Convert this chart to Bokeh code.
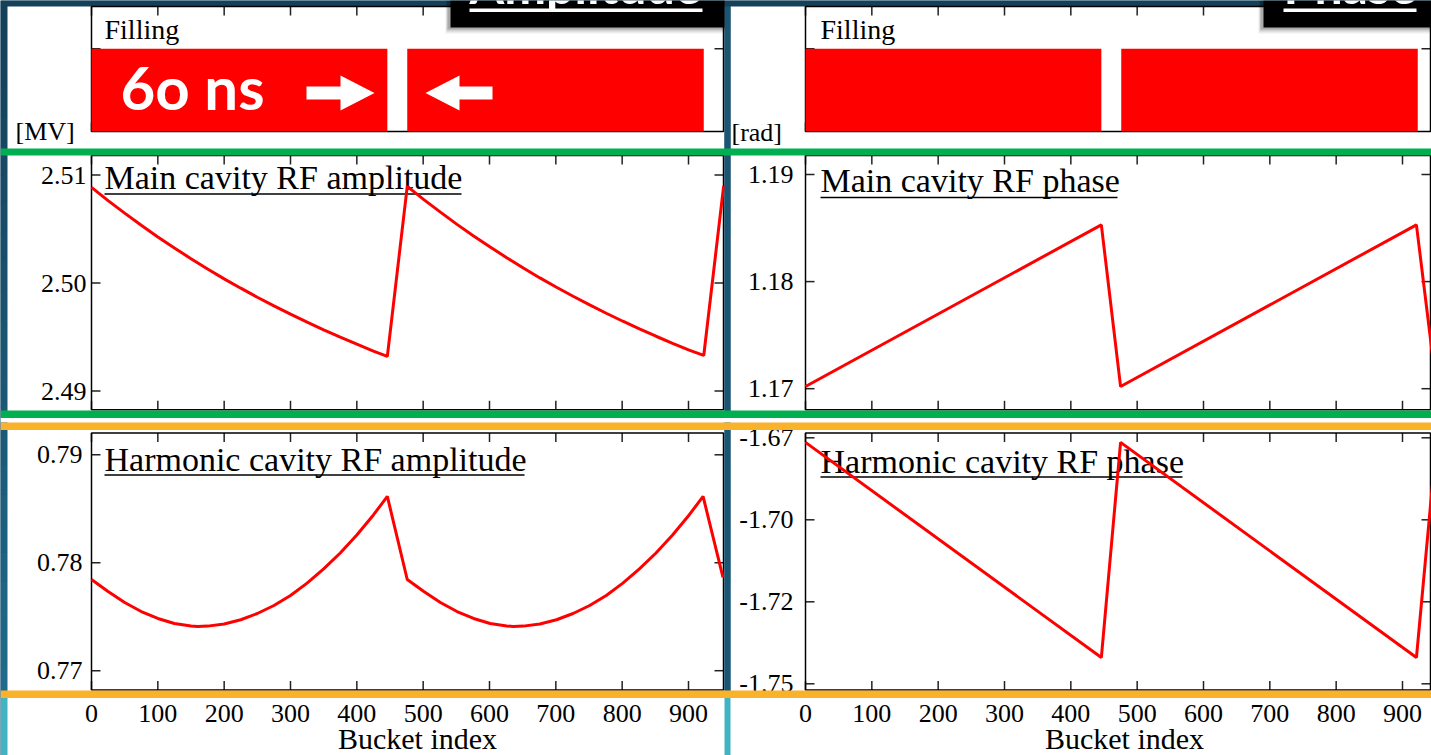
import numpy as np
from bokeh.plotting import figure
from bokeh.models import Range1d
from bokeh.embed import file_html
from bokeh.resources import INLINE
from bokeh.core.properties import value

# ---------------- data ----------------
bucket_ticks = [0, 100, 200, 300, 400, 500, 600, 700, 800, 900]
bucket_tick_labels = ["0", "100", "200", "300", "400", "500", "600", "700", "800", "900"]

fill_start = [0, 476]
fill_end = [446, 923]
fill_ticks = [1.0]

amp_main_bucket = [0, 25, 50, 75, 100, 125, 150, 175, 200, 225, 250, 275, 300, 325, 350, 375, 400, 425, 446,
                   476, 501, 526, 551, 576, 601, 626, 651, 676, 701, 726, 751, 776, 801, 826, 851, 876, 901, 923,
                   953]
amp_main_mv = [2.50885, 2.50763, 2.50647, 2.50534, 2.50426, 2.50324, 2.50225, 2.50130, 2.50038, 2.49952,
               2.49868, 2.49788, 2.49711, 2.49637, 2.49566, 2.49498, 2.49433, 2.49370, 2.49320,
               2.50894, 2.50772, 2.50656, 2.50543, 2.50435, 2.50333, 2.50234, 2.50139, 2.50047, 2.49961,
               2.49877, 2.49797, 2.49720, 2.49646, 2.49575, 2.49507, 2.49442, 2.49379, 2.49329,
               2.50900]

amp_harm_bucket = [0, 25, 50, 75, 100, 125, 150, 160, 175, 200, 225, 250, 275, 300, 325, 350, 375, 400, 425, 446,
                   476, 501, 526, 551, 576, 601, 626, 636, 651, 676, 701, 726, 751, 776, 801, 826, 851, 876, 901,
                   922, 952]
amp_harm_mv = [0.77845, 0.77734, 0.77632, 0.77548, 0.77484, 0.77437, 0.77414, 0.77409, 0.77413, 0.77433,
               0.77472, 0.77530, 0.77604, 0.77697, 0.77811, 0.77944, 0.78090, 0.78257, 0.78443, 0.78614,
               0.77845, 0.77734, 0.77632, 0.77548, 0.77484, 0.77437, 0.77414, 0.77409, 0.77413, 0.77433,
               0.77472, 0.77530, 0.77604, 0.77697, 0.77811, 0.77944, 0.78090, 0.78257, 0.78443, 0.78614,
               0.77864]

ph_main_bucket = [0, 446, 475, 921, 951]
ph_main_rad = [1.1702, 1.1853, 1.1702, 1.1853, 1.1702]

ph_harm_bucket = [0, 446, 475, 921, 951]
ph_harm_rad = [-1.6764, -1.7420, -1.6764, -1.7420, -1.6764]

amp_main_ticks = [2.49, 2.50, 2.51]
amp_main_labels = ["2.49", "2.50", "2.51"]
amp_harm_ticks = [0.77, 0.78, 0.79]
amp_harm_labels = ["0.77", "0.78", "0.79"]
ph_main_ticks = [1.17, 1.18, 1.19]
ph_main_labels = ["1.17", "1.18", "1.19"]
ph_harm_ticks = [-1.675, -1.700, -1.725, -1.750]
ph_harm_labels = ["-1.67", "-1.70", "-1.72", "-1.75"]

# ---------------- layout (pixels) ----------------
W, H = 1431, 755
SERIF = value("Liberation Serif")
SANS = value("Lato")
RED = "#ff0000"
TICK = "#222222"
SERIF_MID = 0.3375   # em distance from baseline up to the middle of the em box
SANS_MID = 0.387


def x_map(d0, p0, d1, p1):
    s = (p1 - p0) / (d1 - d0)
    return Range1d(start=d0 + (0 - p0) / s, end=d0 + (W - p0) / s)


def y_map(v0, p0, v1, p1):
    s = (p1 - p0) / (v1 - v0)
    return Range1d(start=v0 + (H - p0) / s, end=v0 + (0 - p0) / s)


p = figure(width=W, height=H, x_range=Range1d(0, W), y_range=Range1d(H, 0),
           x_axis_location=None, y_axis_location=None, min_border=0,
           toolbar_location=None, output_backend="svg")
p.grid.visible = False
p.outline_line_color = None
p.background_fill_color = "#174660"
p.border_fill_color = "#174660"

p.extra_x_ranges = {
    "Lx": x_map(0, 91, 900, 688),
    "Rx": x_map(0, 805, 900, 1402),
}
p.extra_y_ranges = {
    "Fy": y_map(0, 131, 1, 48.3),
    "LM": y_map(2.51, 174.5, 2.49, 390.5),
    "LH": y_map(0.79, 454.3, 0.77, 670.2),
    "RM": y_map(1.19, 174, 1.17, 388.2),
    "RH": y_map(-1.675, 437.3, -1.75, 683.3),
}

# ---------- slide background ----------
nb = 24
edges = np.linspace(0, 697, nb + 1)
c0 = np.array([21, 64, 90])
c1 = np.array([31, 106, 140])
cols = []
for i in range(nb):
    c = c0 + (c1 - c0) * i / (nb - 1)
    cols.append("#%02x%02x%02x" % tuple(int(v) for v in c))
p.quad(left=[0] * nb, right=[W] * nb, top=list(edges[:-1]), bottom=list(edges[1:] + 0.5),
       fill_color=cols, line_color=None)
p.quad(left=[0], right=[W], top=[697], bottom=[H], fill_color="#42b3c3", line_color=None)

# white panels
p.quad(left=[7, 730], right=[724, W], top=[6, 6], bottom=[H, H], fill_color="white", line_color=None)

# ---------- panel geometry ----------
rows = [
    ("fill", 6, 131),
    ("main", 155, 409.3),
    ("harm", 432.5, 689.5),
]
TL = 9

for xr in ("Lx", "Rx"):
    for name, top, bot in rows:
        p.segment(x0=bucket_ticks, x1=bucket_ticks, y0=[top] * 10, y1=[top + TL] * 10,
                  x_range_name=xr, line_color=TICK, line_width=1.5)
        p.segment(x0=bucket_ticks, x1=bucket_ticks, y0=[bot] * 10, y1=[bot - TL] * 10,
                  x_range_name=xr, line_color=TICK, line_width=1.5)


def yticks(ticks, rng, fx0, fx1):
    n = len(ticks)
    p.segment(x0=[fx0] * n, x1=[fx0 + TL] * n, y0=ticks, y1=ticks, y_range_name=rng,
              line_color=TICK, line_width=1.5)
    p.segment(x0=[fx1] * n, x1=[fx1 - TL] * n, y0=ticks, y1=ticks, y_range_name=rng,
              line_color=TICK, line_width=1.5)


yticks(fill_ticks, "Fy", 91, 723)
yticks(fill_ticks, "Fy", 805, 1430)
yticks(amp_main_ticks, "LM", 91, 723)
yticks(amp_harm_ticks, "LH", 91, 723)
yticks(ph_main_ticks, "RM", 805, 1430)
yticks(ph_harm_ticks, "RH", 805, 1430)

# frames
for fx0, fx1 in ((91, 723), (805, 1430)):
    for name, top, bot in rows:
        p.quad(left=[fx0], right=[fx1], top=[top], bottom=[bot], fill_color=None,
               line_color="black", line_width=1.5)

# ---------- filling bars ----------
for xr in ("Lx", "Rx"):
    p.quad(left=fill_start, right=fill_end, bottom=[0, 0], top=[1, 1], x_range_name=xr, y_range_name="Fy",
           fill_color=RED, line_color=None)


# ---------- texts ----------
def serif_text(xs, baselines, texts, size, align="left"):
    p.text(x=xs, y=[b - SERIF_MID * size for b in baselines], text=texts, text_font=SERIF,
           text_font_size="%dpx" % size, text_align=align, text_baseline="middle", text_color="black")


serif_text([104, 820], [38.5, 38.5], ["Filling", "Filling"], 28)
serif_text([15, 731], [140, 141], ["[MV]", "[rad]"], 26)

titles = ["Main cavity RF amplitude", "Main cavity RF phase",
          "Harmonic cavity RF amplitude", "Harmonic cavity RF phase"]
serif_text([104, 820, 104, 820], [188, 191, 470, 472], titles, 34)
p.segment(x0=[104, 820, 104, 820], x1=[461, 1117, 524, 1182], y0=[193.5, 197, 474.5, 476.5],
          y1=[193.5, 197, 474.5, 476.5], line_color="black", line_width=1.6)

# y tick labels
p.text(x=[86] * 3, y=amp_main_ticks, text=amp_main_labels, y_range_name="LM", text_font=SERIF,
       text_font_size="26px", text_align="right", text_baseline="middle")
p.text(x=[82] * 3, y=amp_harm_ticks, text=amp_harm_labels, y_range_name="LH", text_font=SERIF,
       text_font_size="26px", text_align="right", text_baseline="middle")
p.text(x=[793] * 3, y=ph_main_ticks, text=ph_main_labels, y_range_name="RM", text_font=SERIF,
       text_font_size="26px", text_align="right", text_baseline="middle")
p.text(x=[793] * 4, y=ph_harm_ticks, text=ph_harm_labels, y_range_name="RH", text_font=SERIF,
       text_font_size="26px", text_align="right", text_baseline="middle")

# x tick labels
for xr in ("Lx", "Rx"):
    p.text(x=bucket_ticks, y=[712.5] * 10, text=bucket_tick_labels, x_range_name=xr, text_font=SERIF,
           text_font_size="26px", text_align="center", text_baseline="middle")
p.text(x=[417, 1124], y=[738, 738], text=["Bucket index", "Bucket index"], text_font=SERIF,
       text_font_size="30px", text_align="center", text_baseline="middle")

# ---------- curves ----------
p.line(amp_main_bucket, amp_main_mv, x_range_name="Lx", y_range_name="LM", line_color=RED, line_width=3)
p.line(amp_harm_bucket, amp_harm_mv, x_range_name="Lx", y_range_name="LH", line_color=RED, line_width=3)
p.line(ph_main_bucket, ph_main_rad, x_range_name="Rx", y_range_name="RM", line_color=RED, line_width=3)
p.line(ph_harm_bucket, ph_harm_rad, x_range_name="Rx", y_range_name="RH", line_color=RED, line_width=3)

# separator column between the two slide panels
p.quad(left=[724], right=[730], top=[6], bottom=[697], fill_color="#1a5573", line_color=None)

# ---------- slide overlays ----------
p.quad(left=[0], right=[W], top=[148], bottom=[155], fill_color="#00b050", line_color=None)
p.quad(left=[0], right=[W], top=[417.5], bottom=[422], fill_color="white", line_color=None)
p.quad(left=[0], right=[W], top=[410], bottom=[417.5], fill_color="#00b050", line_color=None)
p.quad(left=[0], right=[W], top=[422], bottom=[429.5], fill_color="#fbb22b", line_color=None)
p.quad(left=[0], right=[W], top=[690], bottom=[697.5], fill_color="#fbb22b", line_color=None)

# "6o ns" and arrows
p.text(x=[120], y=[109.5 - SANS_MID * 60], text=["6o ns"], text_font=SANS, text_font_style="bold",
       text_font_size="60px", text_color="white", text_baseline="middle")
p.patches(xs=[[306, 340, 340, 374, 340, 340, 306], [492, 459, 459, 425, 459, 459, 492]],
          ys=[[86, 86, 75, 92.5, 110, 99, 99], [86, 86, 75, 92.5, 110, 99, 99]],
          fill_color="white", line_color=None)

# black title tabs with shadow
for k, a in enumerate([0.18, 0.12, 0.07]):
    p.quad(left=[447 - k, 1260 - k], right=[724, W], top=[0, 0], bottom=[29 + 2 * k, 29 + 2 * k],
           fill_color="black", fill_alpha=a, line_color=None)
p.quad(left=[450, 1263], right=[724, W], top=[0, 0], bottom=[27, 27], fill_color="black", line_color=None)
p.text(x=[469, 1283], y=[4 - SANS_MID * 50] * 2, text=["Amplitude", "Phase"], text_font=SANS,
       text_font_style="bold", text_font_size="50px", text_color="white", text_baseline="middle")
p.quad(left=[469, 1283], right=[702, 1416], top=[8, 8], bottom=[11.5, 11.5], fill_color="white",
       line_color=None)

open("out.html", "w").write(file_html(p, INLINE))
